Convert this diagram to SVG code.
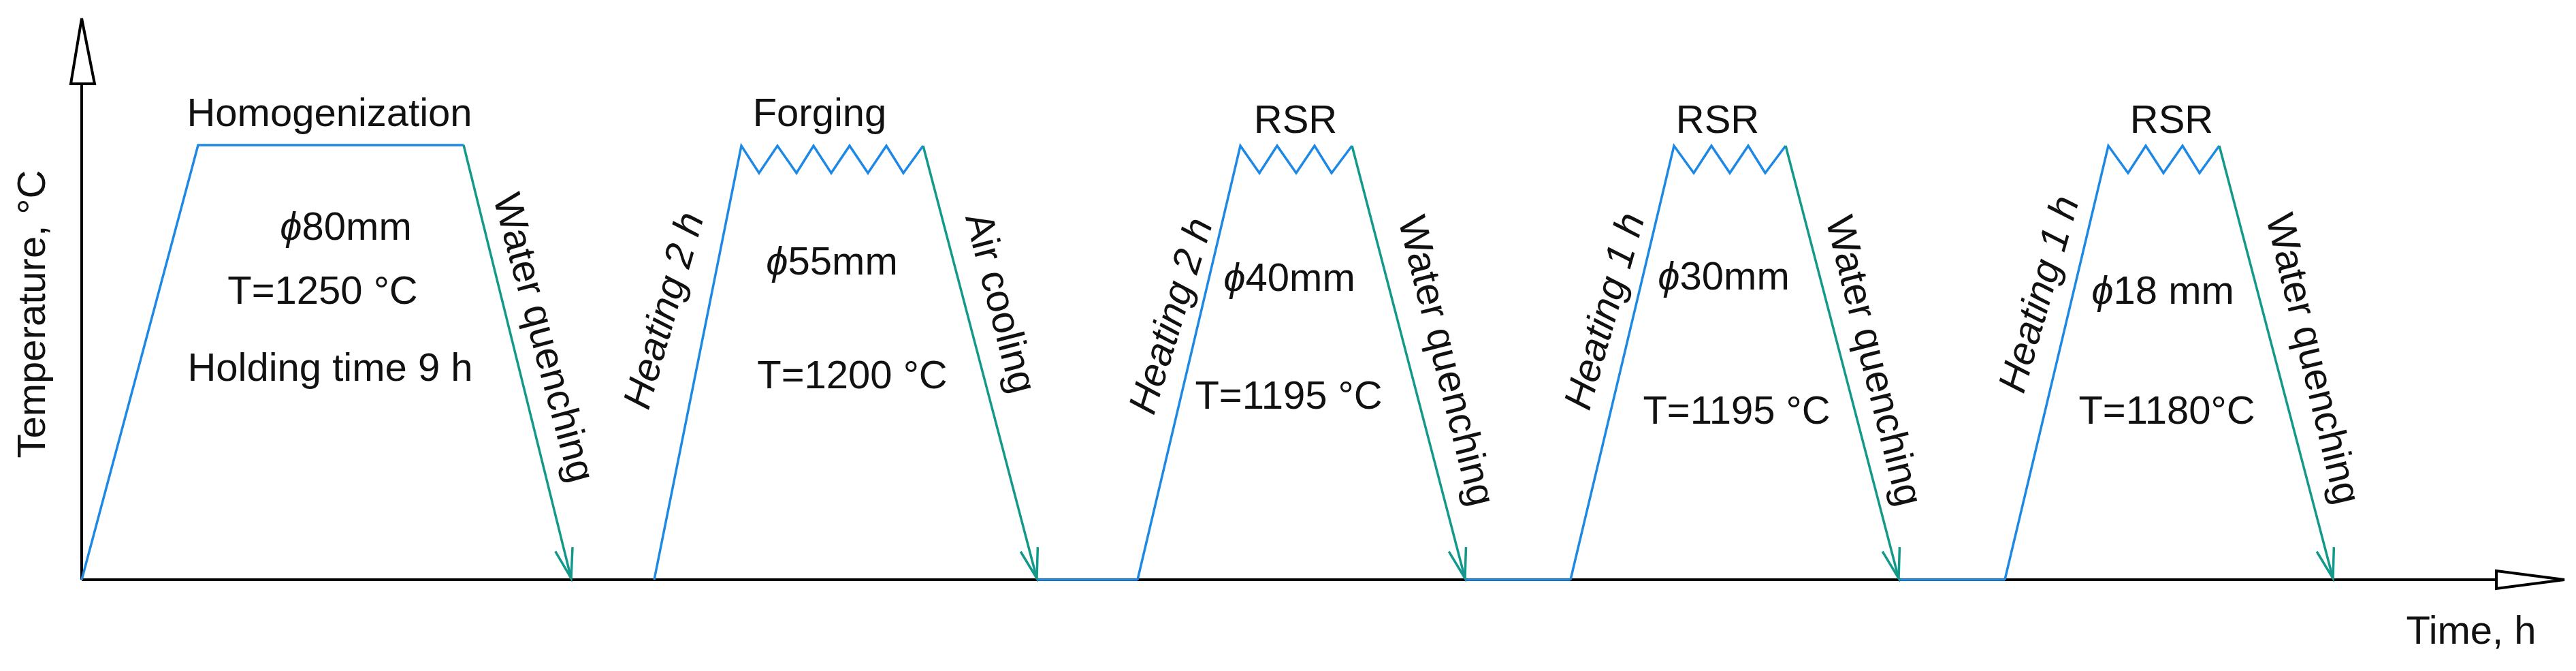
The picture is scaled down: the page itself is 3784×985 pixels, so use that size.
<svg xmlns="http://www.w3.org/2000/svg" width="3784" height="985" viewBox="0 0 3784 985">
<style>
  .t { font-family: "Liberation Sans", Arial, sans-serif; font-size: 58px; fill: #111; }
  .c { text-anchor: middle; }
  .it { font-style: italic; }
  .heat { fill: none; stroke: #1E88E5; stroke-width: 3.5; stroke-linejoin: miter; }
  .cool { fill: none; stroke: #12998A; stroke-width: 3.5; marker-end: url(#arr); }
  .axis { fill: none; stroke: #000; stroke-width: 4; }
  .ahead { fill: #fff; stroke: #000; stroke-width: 4; stroke-linejoin: miter; }
</style>
<defs>
  <marker id="arr" viewBox="-50 -20 60 40" refX="0" refY="0" markerWidth="60" markerHeight="40" markerUnits="userSpaceOnUse" orient="auto">
    <path d="M -44,-13 L 0,0 L -44,13" fill="none" stroke="#12998A" stroke-width="3.5"/>
  </marker>
</defs>
<rect width="3784" height="985" fill="#fff"/>

<g id="axes">
  <line class="axis" x1="120" y1="124" x2="120" y2="851"/>
  <polygon class="ahead" points="120,27 104,123 139,123"/>
  <line class="axis" x1="120" y1="851" x2="3667" y2="851"/>
  <polygon class="ahead" points="3667,838 3667,864 3767,851"/>
  <text class="t c" transform="translate(66,461) rotate(-90)" x="0" y="0">Temperature, °C</text>
  <text class="t c" x="3630" y="945">Time, h</text>
</g>

<g id="connectors">
  <polyline class="heat" points="1523,851 1671,851"/>
  <polyline class="heat" points="2152,851 2307,851"/>
  <polyline class="heat" points="2789,851 2945,851"/>
</g>

<g id="homogenization">
  <polyline class="heat" points="120,851 291,213 681,213"/>
  <line class="cool" x1="681" y1="213" x2="839" y2="849"/>
  <text class="t c" x="484" y="185">Homogenization</text>
  <text class="t c" x="508" y="352"><tspan class="it">ϕ</tspan>80mm</text>
  <text class="t c" x="474" y="446">T=1250 °C</text>
  <text class="t c" x="485" y="559">Holding time 9 h</text>
  <text class="t c" transform="translate(798,496) rotate(75)" x="0" y="18">Water quenching</text>
</g>

<g id="forging">
  <polyline class="heat" points="961,851 1089,214 1115,254 1142,214 1170,254 1195,214 1221,254 1248,214 1275,254 1302,214 1327,254 1356,214"/>
  <line class="cool" x1="1356" y1="214" x2="1523" y2="849"/>
  <text class="t c" x="1204" y="185">Forging</text>
  <text class="t c" x="1222" y="403"><tspan class="it">ϕ</tspan>55mm</text>
  <text class="t c" x="1252" y="570">T=1200 °C</text>
  <text class="t c it" transform="translate(976,456) rotate(-74)" x="0" y="18">Heating 2 h</text>
  <text class="t c" transform="translate(1469,445) rotate(75.5)" x="0" y="18">Air cooling</text>
</g>

<g id="rsr1">
  <polyline class="heat" points="1671,851 1822,214 1850,254 1876,214 1904,254 1931,214 1956,254 1986,214"/>
  <line class="cool" x1="1986" y1="214" x2="2152" y2="849"/>
  <text class="t c" x="1903" y="195">RSR</text>
  <text class="t c" x="1894" y="427"><tspan class="it">ϕ</tspan>40mm</text>
  <text class="t c" x="1893" y="600">T=1195 °C</text>
  <text class="t c it" transform="translate(1721,464) rotate(-73)" x="0" y="18">Heating 2 h</text>
  <text class="t c" transform="translate(2124,530) rotate(76)" x="0" y="18">Water quenching</text>
</g>

<g id="rsr2">
  <polyline class="heat" points="2307,851 2459,214 2488,254 2514,214 2541,254 2568,214 2593,254 2623,214"/>
  <line class="cool" x1="2623" y1="214" x2="2789" y2="849"/>
  <text class="t c" x="2523" y="195">RSR</text>
  <text class="t c" x="2532" y="425"><tspan class="it">ϕ</tspan>30mm</text>
  <text class="t c" x="2551" y="622">T=1195 °C</text>
  <text class="t c it" transform="translate(2358,457) rotate(-74)" x="0" y="18">Heating 1 h</text>
  <text class="t c" transform="translate(2752,530) rotate(76)" x="0" y="18">Water quenching</text>
</g>

<g id="rsr3">
  <polyline class="heat" points="2945,851 3097,214 3126,254 3152,214 3178,254 3206,214 3231,254 3260,214"/>
  <line class="cool" x1="3260" y1="214" x2="3427" y2="849"/>
  <text class="t c" x="3190" y="195">RSR</text>
  <text class="t c" x="3177" y="446"><tspan class="it">ϕ</tspan>18 mm</text>
  <text class="t c" x="3183" y="622">T=1180°C</text>
  <text class="t c it" transform="translate(2996,432) rotate(-74)" x="0" y="18">Heating 1 h</text>
  <text class="t c" transform="translate(3397,527) rotate(76.5)" x="0" y="18">Water quenching</text>
</g>
</svg>
